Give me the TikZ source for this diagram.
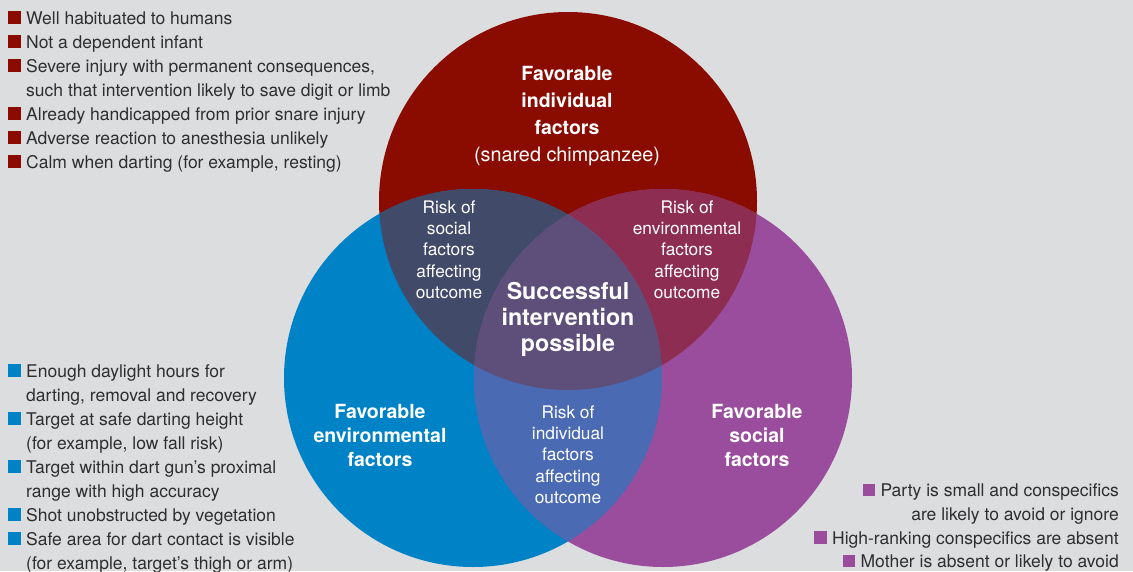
\documentclass[tikz,border=0pt]{standalone}
\usepackage{fontspec}
\setmainfont{TeX Gyre Heros}
\definecolor{bg}{HTML}{DCDDDF}
\definecolor{cred}{HTML}{8A0C00}
\definecolor{cblue}{HTML}{0082C6}
\definecolor{cpurp}{HTML}{994D9C}
\definecolor{crb}{HTML}{414A68}
\definecolor{crp}{HTML}{8D2D52}
\definecolor{cbp}{HTML}{4A6AB4}
\definecolor{call}{HTML}{5E4E7A}
\definecolor{txt}{HTML}{2E2E2E}
\begin{document}
\begin{tikzpicture}[x=1pt,y=-1pt,
  li/.style={anchor=base west,inner sep=0pt,text=txt,font=\fontsize{17.5}{20}\selectfont},
  lir/.style={li,anchor=base east},
  bul/.style={fill=#1,minimum size=12.5pt,inner sep=0pt,anchor=south east},
  lbl/.style={align=center,inner sep=0pt,text=white},
  big/.style={lbl,font=\bfseries\fontsize{19.5}{24}\selectfont},
  lens/.style={lbl,font=\fontsize{17.3}{21.3}\selectfont}]
\fill[bg] (0,0) rectangle (1133,571);
\useasboundingbox (0,0) rectangle (1133,571);
\coordinate (cr) at (568,201);
\coordinate (cb) at (473,378);
\coordinate (cp) at (663,378);
\fill[cred] (cr) circle (189pt);
\fill[cblue] (cb) circle (189pt);
\fill[cpurp] (cp) circle (189pt);
\begin{scope}\clip (cr) circle (189pt); \fill[crb] (cb) circle (189pt);\end{scope}
\begin{scope}\clip (cr) circle (189pt); \fill[crp] (cp) circle (189pt);\end{scope}
\begin{scope}\clip (cb) circle (189pt); \fill[cbp] (cp) circle (189pt);\end{scope}
\begin{scope}\clip (cr) circle (189pt); \clip (cb) circle (189pt); \fill[call] (cp) circle (189pt);\end{scope}

% circle labels
\node[lbl,font=\bfseries\fontsize{19.5}{27}\selectfont] (ind) at (567,116) {Favorable\\individual\\factors\\\mdseries\fontsize{19.8}{27}\selectfont (snared chimpanzee)};
\node[big] (env) at (380,435) {Favorable\\environmental\\factors};
\node[big] (soc) at (757,435) {Favorable\\social\\factors};
\node[lbl,font=\bfseries\fontsize{23.2}{26}\selectfont] (succ) at (568,319) {Successful\\intervention\\possible};
\node[lens] (rs) at (449,249.5) {Risk of\\social\\factors\\affecting\\outcome};
\node[lens] (re) at (687,249.5) {Risk of\\environmental\\factors\\affecting\\outcome};
\node[lens] (ri) at (568,454.5) {Risk of\\individual\\factors\\affecting\\outcome};

% red list
\node[li] (r1) at (26,24) {Well habituated to humans};
\node[li] (r2) at (26,48) {Not a dependent infant};
\node[li] (r3) at (26,72) {Severe injury with permanent consequences,};
\node[li] (r4) at (26,96) {such that intervention likely to save digit or limb};
\node[li] (r5) at (26,120) {Already handicapped from prior snare injury};
\node[li] (r6) at (26,144) {Adverse reaction to anesthesia unlikely};
\node[li] (r7) at (26,168) {Calm when darting (for example, resting)};
\foreach \n in {r1,r2,r3,r5,r6,r7}
  \node[bul=cred] (b\n) at ([xshift=-5pt]\n.base west) {};

% blue list
\node[li] (e1) at (26,377) {Enough daylight hours for};
\node[li] (e2) at (26,401) {darting, removal and recovery};
\node[li] (e3) at (26,425) {Target at safe darting height};
\node[li] (e4) at (26,449) {(for example, low fall risk)};
\node[li] (e5) at (26,473) {Target within dart gun’s proximal};
\node[li] (e6) at (26,497) {range with high accuracy};
\node[li] (e7) at (26,521) {Shot unobstructed by vegetation};
\node[li] (e8) at (26,545) {Safe area for dart contact is visible};
\node[li] (e9) at (26,569) {(for example, target’s thigh or arm)};
\foreach \n in {e1,e3,e5,e7,e8}
  \node[bul=cblue] (b\n) at ([xshift=-5pt]\n.base west) {};

% purple list
\node[lir] (p1) at (1119,496.5) {Party is small and conspecifics};
\node[lir] (p2) at (1119,520.5) {are likely to avoid or ignore};
\node[lir] (p3) at (1119,544) {High-ranking conspecifics are absent};
\node[lir] (p4) at (1119,567.5) {Mother is absent or likely to avoid};
\foreach \n in {p1,p3,p4}
  \node[bul=cpurp] (b\n) at ([xshift=-5pt]\n.base west) {};
\end{tikzpicture}
\end{document}
